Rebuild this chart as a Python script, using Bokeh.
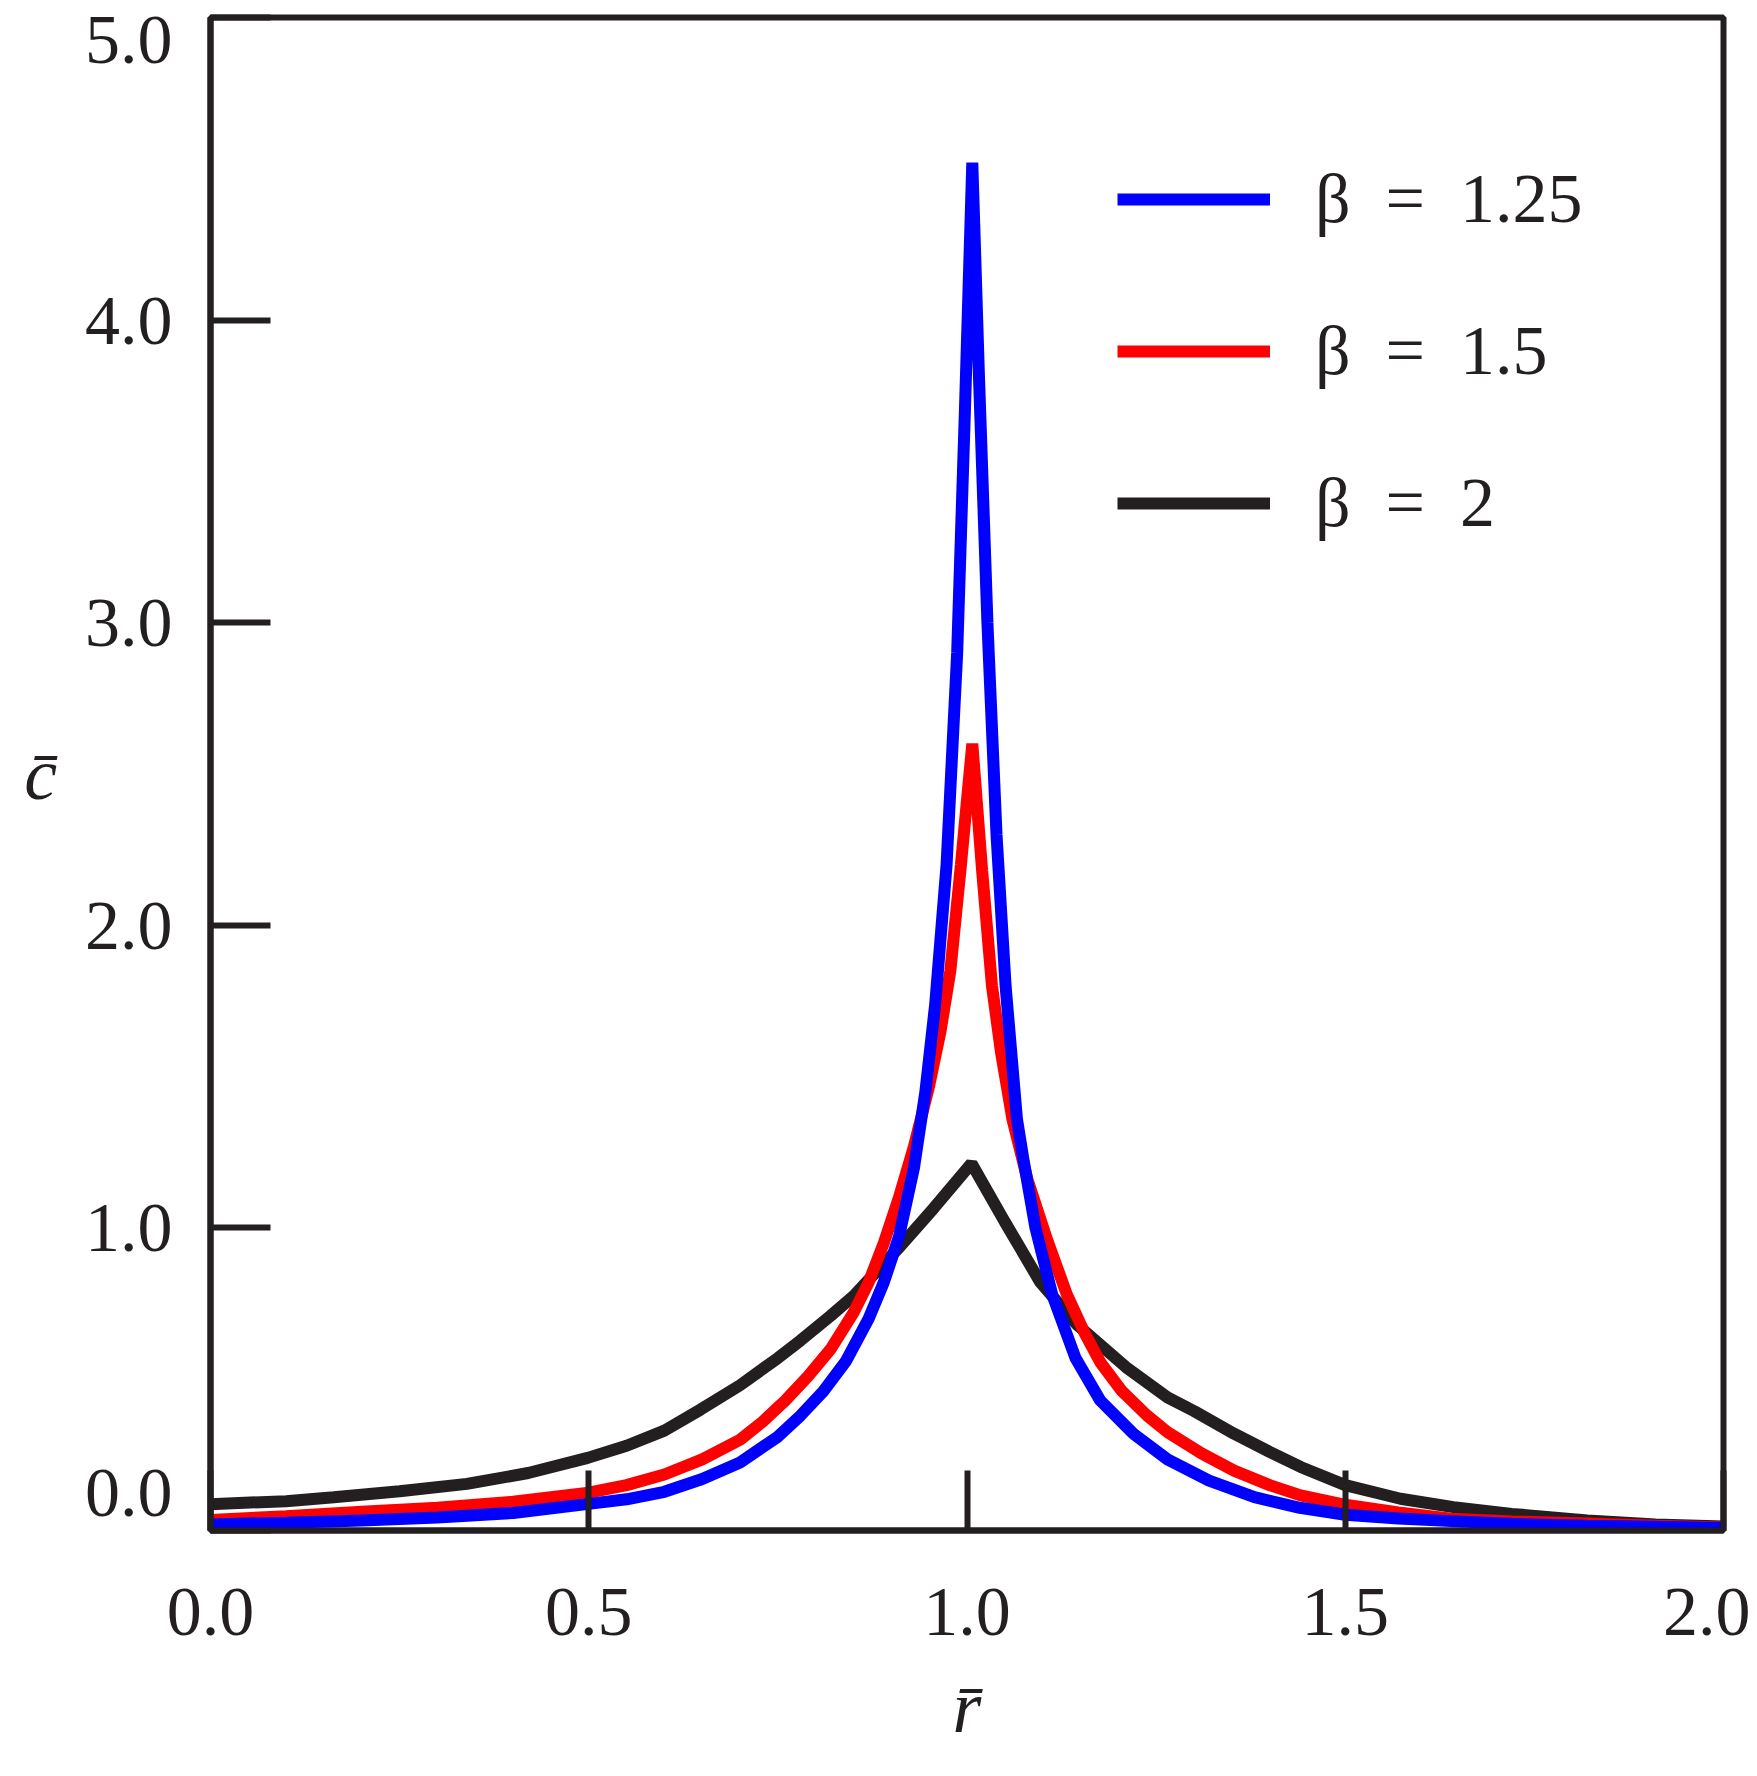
from bokeh.plotting import figure
from bokeh.models import Range1d, FixedTicker, PrintfTickFormatter, Legend, LegendItem
from bokeh.embed import file_html
from bokeh.resources import INLINE

# ---------------- data ----------------
r_beta125 = [0.0, 0.1, 0.2, 0.3, 0.4, 0.5, 0.55, 0.6, 0.65, 0.7, 0.75, 0.78,
             0.81, 0.84, 0.87, 0.89, 0.91, 0.93, 0.945, 0.958, 0.973, 0.987,
             0.997, 1.007, 1.016, 1.027, 1.039, 1.051, 1.066, 1.075, 1.0905,
             1.1126, 1.1434, 1.176, 1.22, 1.265, 1.32, 1.38, 1.44, 1.5, 1.57,
             1.64, 1.72, 1.82, 1.91, 2.0]
c_beta125 = [0.02, 0.026, 0.033, 0.043, 0.058, 0.088, 0.103, 0.128, 0.17,
             0.225, 0.31, 0.38, 0.46, 0.56, 0.70, 0.82, 0.97, 1.20, 1.45,
             1.74, 2.2, 2.9, 3.68, 4.52, 3.8, 3.0, 2.3, 1.8, 1.36, 1.22, 1.0,
             0.78, 0.57, 0.43, 0.32, 0.235, 0.165, 0.11, 0.075, 0.052, 0.04,
             0.031, 0.022, 0.016, 0.012, 0.008]

r_beta15 = [0.0, 0.1, 0.2, 0.3, 0.4, 0.5, 0.55, 0.6, 0.65, 0.7, 0.73, 0.76,
            0.79, 0.82, 0.85, 0.87, 0.89, 0.91, 0.93, 0.95, 0.965, 0.978,
            0.992, 1.007, 1.020, 1.033, 1.045, 1.06, 1.08, 1.106, 1.132,
            1.155, 1.1765, 1.205, 1.238, 1.265, 1.31, 1.353, 1.40, 1.441,
            1.5, 1.57, 1.64, 1.72, 1.82, 1.91, 2.0]
c_beta15 = [0.035, 0.047, 0.062, 0.075, 0.095, 0.125, 0.15, 0.185, 0.235,
            0.30, 0.36, 0.43, 0.51, 0.60, 0.72, 0.82, 0.95, 1.10, 1.27, 1.47,
            1.65, 1.85, 2.2, 2.6, 2.18, 1.80, 1.58, 1.36, 1.16, 0.96, 0.78,
            0.655, 0.555, 0.46, 0.38, 0.325, 0.255, 0.198, 0.15, 0.116, 0.085,
            0.06, 0.039, 0.03, 0.023, 0.016, 0.01]

r_beta2 = [0.0, 0.1, 0.163, 0.25, 0.339, 0.42, 0.4986, 0.55, 0.6, 0.648,
           0.7, 0.75, 0.78, 0.82, 0.85, 0.88, 0.912, 0.956, 1.006, 1.05,
           1.097, 1.1456, 1.21, 1.265, 1.30, 1.353, 1.40, 1.441, 1.5,
           1.573, 1.643, 1.72, 1.82, 1.91, 2.0]
c_beta2 = [0.087, 0.097, 0.110, 0.13, 0.154, 0.19, 0.240, 0.28, 0.33, 0.40,
           0.48, 0.57, 0.628, 0.71, 0.775, 0.855, 0.94, 1.065, 1.213, 1.02,
           0.82, 0.68, 0.54, 0.44, 0.395, 0.32, 0.26, 0.21, 0.15,
           0.105, 0.077, 0.055, 0.033, 0.02, 0.013]

series_labels = ["\u03b2\u2002=\u20021.25", "\u03b2\u2002=\u20021.5", "\u03b2\u2002=\u20022"]
x_ticks = [0.0, 0.5, 1.0, 1.5, 2.0]
y_ticks = [0.0, 1.0, 2.0, 3.0, 4.0, 5.0]
x_label = "r\u0304"
y_label = "c\u0304"

# ---------------- styling ----------------
FONT = "Liberation Serif"
INK = "#231f20"
BLUE = "#0000ff"
RED = "#ff0000"
LW = 12

p = figure(width=1750, height=1772,
           x_range=Range1d(0, 2), y_range=Range1d(0, 5),
           output_backend="svg", toolbar_location=None,
           min_border_left=210, min_border_right=27,
           min_border_top=17, min_border_bottom=242)
p.xgrid.visible = False
p.ygrid.visible = False
p.background_fill_color = "white"
p.border_fill_color = "white"
p.outline_line_color = INK
p.outline_line_width = 6
p.outline_line_alpha = 1.0

for ax in (p.xaxis[0], p.yaxis[0]):
    ax.axis_line_color = INK
    ax.axis_line_width = 6
    ax.major_tick_line_color = INK
    ax.major_tick_line_width = 6
    ax.major_tick_in = 60
    ax.major_tick_out = 0
    ax.minor_tick_line_color = None
    ax.major_label_text_font = FONT
    ax.major_label_text_font_size = "70px"
    ax.major_label_text_color = INK
    ax.axis_label_text_font = FONT
    ax.axis_label_text_font_size = "74px"
    ax.axis_label_text_font_style = "italic"
    ax.axis_label_text_color = INK
    ax.formatter = PrintfTickFormatter(format="%.1f")

xax = p.xaxis[0]
yax = p.yaxis[0]
xax.ticker = FixedTicker(ticks=x_ticks)
yax.ticker = FixedTicker(ticks=y_ticks)
xax.major_label_standoff = 58
yax.major_label_standoff = 38
xax.axis_label = x_label
xax.axis_label_standoff = 28
yax.axis_label = y_label
yax.axis_label_standoff = 25
if "axis_label_orientation" in yax.properties():
    yax.axis_label_orientation = "horizontal"

# the bottom label of the y axis sits nudged up inside the frame, as in the reference
yax.major_label_text_line_height = 0.5
yax.major_label_overrides = {y_ticks[0]: "0.0\n\n"}

r_black = p.line(r_beta2, c_beta2, line_color=INK, line_width=LW)
r_red = p.line(r_beta15, c_beta15, line_color=RED, line_width=LW)
r_blue = p.line(r_beta125, c_beta125, line_color=BLUE, line_width=LW)

legend = Legend(items=[LegendItem(label=series_labels[0], renderers=[r_blue]),
                       LegendItem(label=series_labels[1], renderers=[r_red]),
                       LegendItem(label=series_labels[2], renderers=[r_black])],
                location=(907, 957), orientation="vertical",
                glyph_width=153, glyph_height=140, label_height=140,
                spacing=12, label_standoff=45, padding=0, margin=0,
                border_line_color=None, background_fill_alpha=0,
                label_text_font=FONT, label_text_font_size="70px",
                label_text_color=INK)
p.add_layout(legend)

open("out.html", "w").write(file_html(p, INLINE))
